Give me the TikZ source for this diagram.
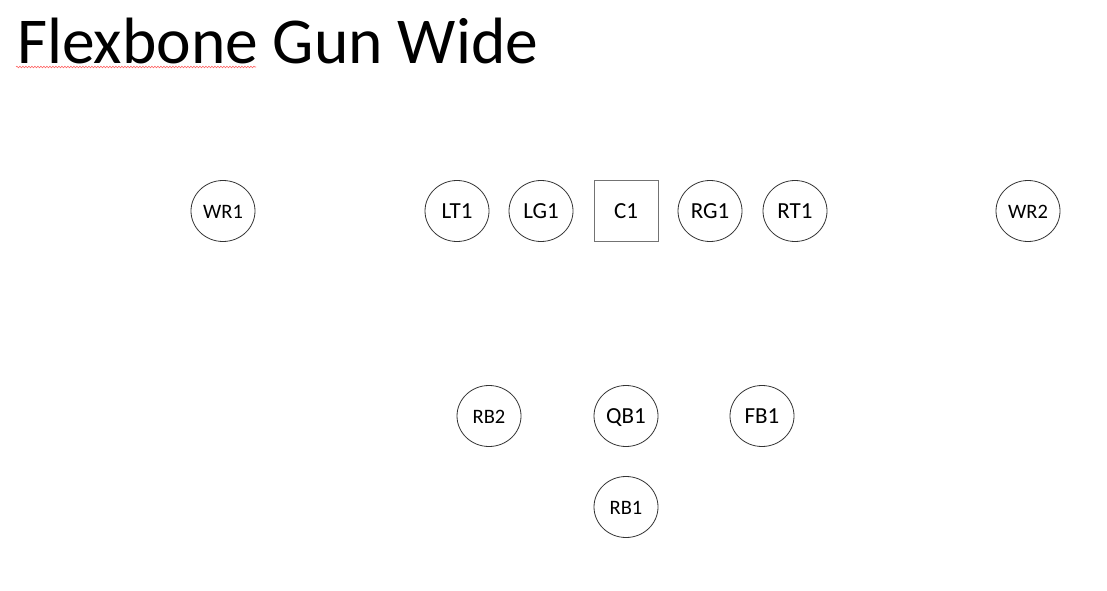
\documentclass[tikz,border=0pt]{standalone}
\usepackage{fontspec}
\setmainfont{Carlito}
\usetikzlibrary{shapes.geometric,decorations.pathmorphing}
\begin{document}
\begin{tikzpicture}[x=1pt,y=1pt,
  base/.style={line width=0.8pt,minimum width=64pt,minimum height=61pt,inner sep=0pt,text depth=0pt},
  player/.style={base,ellipse,draw=black!80},
  small/.style={font=\fontsize{20.5}{20.5}\selectfont,text height=15pt},
  big/.style={font=\fontsize{23}{23}\selectfont,text height=15.2pt},
  center/.style={base,rectangle,draw=black!55,line width=1pt,big}]
\useasboundingbox (0,0) rectangle (1107,590);
\node[anchor=base west,inner sep=0pt,font=\fontsize{65.5}{65.5}\selectfont] (title) at (17,526) {Flexbone Gun Wide};
\coordinate (ulA) at (16,523);
\coordinate (ulB) at (256,523);
\draw[red!60,line width=0.6pt,decorate,decoration={snake,amplitude=0.8pt,segment length=3pt}] (ulA) -- (ulB);
\node[player,small] (WR1) at (223,379) {WR1};
\node[player,big] (LT1) at (457,379) {LT1};
\node[player,big] (LG1) at (541,379) {LG1};
\node[center] (C1) at (626,379) {C1};
\node[player,big] (RG1) at (710,379) {RG1};
\node[player,big] (RT1) at (795,379) {RT1};
\node[player,small] (WR2) at (1028,379) {WR2};
\node[player,small] (RB2) at (489,174) {RB2};
\node[player,big] (QB1) at (626,174) {QB1};
\node[player,big] (FB1) at (762,174) {FB1};
\node[player,small] (RB1) at (626,83) {RB1};
\end{tikzpicture}
\end{document}
